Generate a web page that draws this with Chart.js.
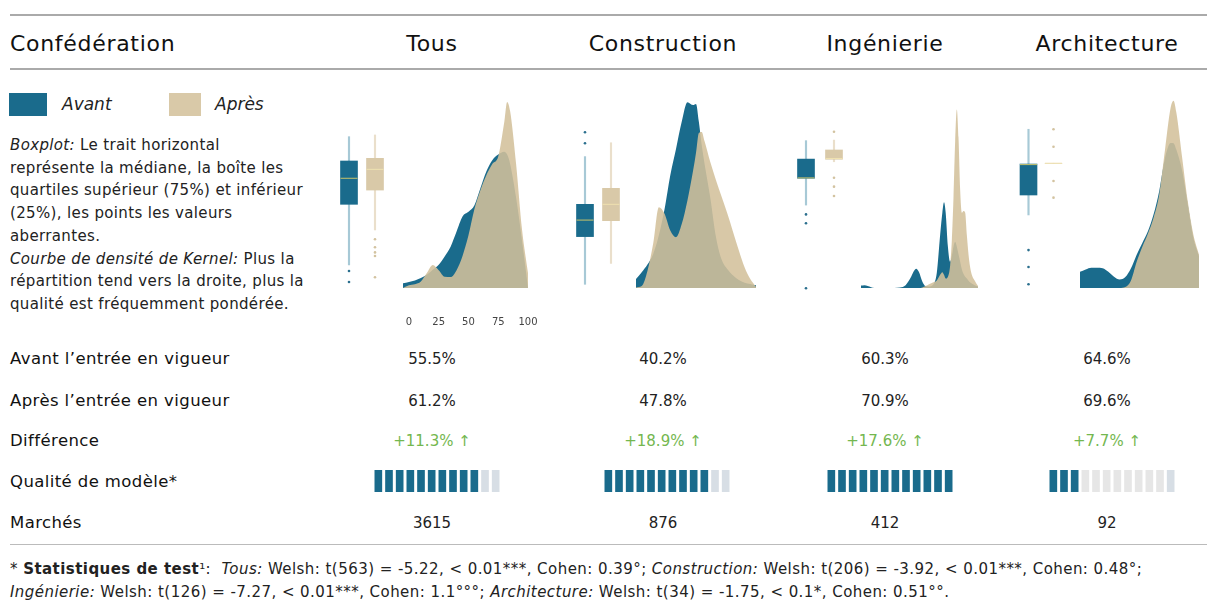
<!DOCTYPE html>
<html lang="fr">
<head>
<meta charset="utf-8">
<script src="https://cdn.jsdelivr.net/npm/chart.js@4.4.1/dist/chart.umd.min.js"></script>
<style>
  body { margin: 0; background: #fff; font-family: "DejaVu Sans", "Noto Sans", sans-serif; color: #111; }
  #page { position: relative; width: 1207px; height: 612px; overflow: hidden; }
  .abs { position: absolute; white-space: nowrap; }
  .hr { position: absolute; left: 10px; right: 0; background: #aaa; }
  .c { transform: translateX(-50%); }
  canvas { position: absolute; }
  .head { font-size: 22px; line-height: 28px; letter-spacing: 0.7px; }
  .lab { font-size: 16.5px; line-height: 22px; letter-spacing: 0.4px; }
  .val { font-size: 15px; line-height: 22px; color: #222; }
  .up { color: #74b74f; }
  #desc { position: absolute; left: 10px; top: 134px; font-size: 15px; line-height: 22.7px; letter-spacing: 0.35px; color: #222; white-space: nowrap; }
  #foot { position: absolute; left: 10px; top: 558px; font-size: 15px; line-height: 23px; letter-spacing: 0.45px; color: #222; white-space: nowrap; }
</style>
</head>
<body>
<div id="page">
  <div class="hr" style="top:14px;height:2px"></div>
  <div class="hr" style="top:68px;height:2px"></div>
  <div class="hr" style="top:544px;height:1px;background:#bbb"></div>

  <div class="abs head" style="left:10px;top:30px">Confédération</div>

  <div class="abs" style="left:9px;top:93px;width:38px;height:23px;background:#1a6b8c"></div>
  <div class="abs" style="left:62px;top:94px;font-size:17px;font-style:italic;color:#222">Avant</div>
  <div class="abs" style="left:169px;top:93px;width:32px;height:23px;background:#d9c9a8"></div>
  <div class="abs" style="left:215px;top:94px;font-size:17px;font-style:italic;color:#222">Après</div>

  <div id="desc"><i>Boxplot:</i> Le trait horizontal<br>représente la médiane, la boîte les<br>quartiles supérieur (75%) et inférieur<br>(25%), les points les valeurs<br>aberrantes.<br><i>Courbe de densité de Kernel:</i> Plus la<br>répartition tend vers la droite, plus la<br>qualité est fréquemment pondérée.</div>

  <div class="abs lab" style="left:10px;top:348px">Avant l’entrée en vigueur</div>
  <div class="abs lab" style="left:10px;top:390px">Après l’entrée en vigueur</div>
  <div class="abs lab" style="left:10px;top:430px">Différence</div>
  <div class="abs lab" style="left:10px;top:471px">Qualité de modèle*</div>
  <div class="abs lab" style="left:10px;top:512px">Marchés</div>

  <div id="foot">* <b>Statistiques de test</b>¹: &nbsp;<i>Tous:</i> Welsh: t(563) = -5.22, &lt; 0.01***, Cohen: 0.39°; <i>Construction:</i> Welsh: t(206) = -3.92, &lt; 0.01***, Cohen: 0.48°;<br><i>Ingénierie:</i> Welsh: t(126) = -7.27, &lt; 0.01***, Cohen: 1.1°°°; <i>Architecture:</i> Welsh: t(34) = -1.75, &lt; 0.1*, Cohen: 0.51°°.</div>
</div>

<script>
// colonnes et valeurs du tableau
const columns = ['Tous', 'Construction', 'Ingénierie', 'Architecture'];
const avantPct = [55.5, 40.2, 60.3, 64.6];
const apresPct = [61.2, 47.8, 70.9, 69.6];
const diffPct = [11.3, 18.9, 17.6, 7.7];
const qualite = [10, 10, 12, 3];
const qualiteMax = 12;
const marches = [3615, 876, 412, 92];
const densTicks = [0, 25, 50, 75, 100];

// boxplots: [min, q1, médiane, q3, max]
const boxAvant = [
  [13.2, 45.1, 58.8, 67.9, 80.7],
  [3, 28.1, 36.8, 45.1, 70.2],
  [44.7, 58.8, 59, 68.9, 78.6],
  [39.5, 50, 66, 66.3, 84.6]
];
const boxApres = [
  [31.6, 52.6, 63.5, 69.3, 81.6],
  [14, 36.5, 45.1, 53.5, 77.5],
  [67.5, 68.8, 69.2, 73.7, 78.9],
  [66.7, 66.7, 66.7, 66.7, 66.7]
];
const outAvant = [[10, 4.2], [77.2, 83], [39.8, 35.1, 0.9], [21, 12.1, 3]];
const outApres = [[26.7, 22.5, 19.8, 17.9, 6.7], [], [83.3, 59.1, 54.4, 49.5], [84.6, 75.4, 57.4, 48.6]];

// courbes de densité (hauteur relative, 0-100)
const densXTous = [-5, 0, 5, 10, 15, 20, 25, 30, 35, 40, 45, 50, 55, 60, 65, 70, 75, 80, 82.5, 85, 90, 95, 100];
const densAvantTous = [2.5, 3.2, 4, 5.3, 7, 9.7, 12.4, 16.8, 22, 30, 38, 40.5, 44, 53, 62, 68, 71, 72.5, 71, 66, 48, 25, 0];
const densApresTous = [0, 1.4, 2, 3.5, 8, 12.3, 9.5, 6, 5.8, 9.5, 17, 28, 42, 52, 60, 66, 70, 88, 99, 94, 66, 31, 8];

const densXConstr = [-5, 0, 5, 10, 15, 20, 25, 30, 35, 40, 45, 47.5, 50, 52.5, 55, 60, 65, 70, 75, 80, 85, 90, 95, 100];
const densAvantConstr = [4.8, 8.4, 12.5, 18, 28, 42, 60, 74, 88.4, 98.8, 97.3, 97.9, 88.4, 76, 66, 48, 27, 15, 10, 6.6, 4.3, 2.8, 2.1, 1.4];
const densApresConstr = [0.3, 1, 9, 23.5, 43, 39.5, 30.6, 27, 34, 46.6, 62.6, 72, 82.5, 83, 78, 67, 57.3, 48.4, 39.5, 29.7, 20, 11, 4.8, 0.7];

const densXIng = [-5, -2, 1, 4, 7, 10, 20, 30, 35, 40, 42.5, 44.5, 47, 50, 53, 56, 60, 63, 66, 68, 69.5, 71, 73, 75, 76.5, 78, 79.5, 81, 82.5, 84, 85.5, 87, 88.5, 90, 92, 94, 97, 100];
const densAvantIng = [1.3, 1.5, 1, 0.4, 0, 0, 0, 0.3, 1.5, 6, 9, 10.2, 8.5, 3.5, 1, 0.8, 2, 8, 28, 40, 45.6, 40, 22, 14, 17, 22, 24.6, 22, 18, 14, 10, 7.5, 6, 5, 3.5, 2.5, 1.5, 0.8];
const densApresIng = [0, 0, 0, 0, 0, 0, 0, 0, 0, 0, 0, 0, 0, 0.3, 1, 2, 3, 4, 7, 8.4, 7, 5, 6, 12, 25, 48, 78, 95, 80, 52, 40, 41, 40, 28, 15, 8, 4, 1];

const densXArch = [-5, 0, 5, 10, 15, 20, 25, 30, 35, 40, 45, 50, 55, 60, 65, 70, 75, 77.5, 80, 85, 90, 95, 100];
const densAvantArch = [8.6, 9.9, 10.8, 10.8, 10.5, 8.6, 6, 4.5, 5.8, 10.5, 17.7, 24, 30.3, 39.3, 51.9, 69, 77.1, 77, 73.5, 62.7, 44.7, 26.7, 16.8];
const densApresArch = [0, 0, 0, 0, 0, 0, 0, 0, 0.5, 4, 14, 22, 29, 37.5, 50, 73.5, 96, 99.6, 93.3, 70, 46.5, 28.5, 17.7];

const densX = [densXTous, densXConstr, densXIng, densXArch];
const densAvant = [densAvantTous, densAvantConstr, densAvantIng, densAvantArch];
const densApres = [densApresTous, densApresConstr, densApresIng, densApresArch];

// mise en page
const colCenter = [432, 663, 885, 1107];
const boxLeft = [336, 571.5, 792, 1015.5];
const boxW = [52, 52, 56, 50];
const densLeft = [403, 636, 861, 1080];
const densW = [125, 120, 117, 119];
const qualLeft = [373, 603, 826, 1048];
const qualVide = ['#d7dee5', '#d7dee5', '#d7dee5', '#e6e6e6'];

const TEAL = '#1a6b8c';
const BEIGE = '#d9c9a8';
const BEIGE_A = 'rgba(211,192,155,0.88)';
const page = document.getElementById('page');

Chart.defaults.font.family = '"DejaVu Sans", "Noto Sans", sans-serif';

function addText(cls, text, x, y) {
  const d = document.createElement('div');
  d.className = 'abs c ' + cls;
  d.style.left = x + 'px';
  d.style.top = y + 'px';
  d.textContent = text;
  page.appendChild(d);
}

function addCanvas(x, y, w, h) {
  const cv = document.createElement('canvas');
  cv.width = w; cv.height = h;
  cv.style.left = x + 'px'; cv.style.top = y + 'px';
  page.appendChild(cv);
  return cv.getContext('2d');
}

const fmt = v => v.toFixed(1) + '%';
const noPlugins = { legend: { display: false }, tooltip: { enabled: false } };

columns.forEach((col, i) => {
  addText('head', col, colCenter[i], 30);
  addText('val', fmt(avantPct[i]), colCenter[i], 348);
  addText('val', fmt(apresPct[i]), colCenter[i], 390);
  addText('val up', '+' + fmt(diffPct[i]) + ' ↑', colCenter[i], 430);
  addText('val', String(marches[i]), colCenter[i], 512);

  // boxplots (x: 0 = avant, 1 = après)
  const a = boxAvant[i], b = boxApres[i];
  new Chart(addCanvas(boxLeft[i], 100, boxW[i], 190), {
    type: 'bar',
    data: {
      datasets: [
        { type: 'line', showLine: false, data: [{ x: 0, y: a[2] }, { x: 1, y: b[2] }],
          pointStyle: 'line', pointRadius: 8.5, pointBorderWidth: 1,
          pointBorderColor: ['#c9c36a', '#efe2b0'], order: 0 },
        { data: [{ x: 0, y: [a[1], a[3]] }, { x: 1, y: [b[1], b[3]] }], backgroundColor: [TEAL, BEIGE],
          barThickness: 17, grouped: false, order: 1 },
        { data: [{ x: 0, y: [a[0], a[4]] }, { x: 1, y: [b[0], b[4]] }], backgroundColor: ['#a7c9d6', '#eadfcb'],
          barThickness: 1.5, grouped: false, order: 2 },
        { type: 'line', showLine: false, data: outAvant[i].map(v => ({ x: 0, y: v })),
          pointRadius: 1.3, pointBorderWidth: 0, pointBackgroundColor: '#2b6f8e', order: 3 },
        { type: 'line', showLine: false, data: outApres[i].map(v => ({ x: 1, y: v })),
          pointRadius: 1.3, pointBorderWidth: 0, pointBackgroundColor: '#d3c3a0', order: 3 }
      ]
    },
    options: {
      responsive: false, animation: false, devicePixelRatio: 1,
      plugins: noPlugins, layout: { padding: 0, autoPadding: false },
      scales: {
        x: { type: 'linear', display: false, min: -0.5, max: 1.5, offset: false },
        y: { display: false, min: 0, max: 100 }
      }
    }
  });

  // densité
  const pad = 15;
  const xs = densX[i];
  new Chart(addCanvas(densLeft[i] - pad, 100, densW[i] + 2 * pad, 240), {
    type: 'line',
    data: {
      datasets: [
        { data: xs.map((x, j) => ({ x, y: densApres[i][j] })), fill: 'origin',
          backgroundColor: BEIGE_A, borderColor: 'rgba(0,0,0,0)', borderWidth: 0,
          pointRadius: 0, cubicInterpolationMode: 'monotone', order: 0 },
        { data: xs.map((x, j) => ({ x, y: densAvant[i][j] })), fill: 'origin',
          backgroundColor: TEAL, borderColor: 'rgba(0,0,0,0)', borderWidth: 0,
          pointRadius: 0, cubicInterpolationMode: 'monotone', order: 1 }
      ]
    },
    options: {
      responsive: false, animation: false, devicePixelRatio: 1,
      plugins: noPlugins, layout: { padding: { left: pad, right: pad, top: 0, bottom: 0 }, autoPadding: false },
      scales: {
        x: {
          type: 'linear', min: -5, max: 100,
          grid: { display: false, drawTicks: false }, border: { display: false },
          afterBuildTicks: ax => { ax.ticks = densTicks.map(v => ({ value: v })); },
          afterFit: ax => { ax.height = 52; ax.paddingLeft = 0; ax.paddingRight = 0; },
          ticks: { display: i === 0, padding: 28, color: '#444', font: { size: 10 }, maxRotation: 0, minRotation: 0, autoSkip: false }
        },
        y: { display: false, min: 0, max: 100 }
      }
    }
  });

  // qualité de modèle
  const segs = Array.from({ length: qualiteMax }, (_, j) => j + 1);
  new Chart(addCanvas(qualLeft[i], 470, 128, 22), {
    type: 'bar',
    data: {
      labels: segs,
      datasets: [{
        data: segs.map(() => 1),
        backgroundColor: segs.map(j => j <= qualite[i] ? TEAL : (j === qualiteMax ? '#d7dee5' : qualVide[i])),
        barThickness: 7
      }]
    },
    options: {
      responsive: false, animation: false, devicePixelRatio: 1,
      plugins: noPlugins, layout: { padding: 0, autoPadding: false },
      scales: { x: { display: false }, y: { display: false, min: 0, max: 1 } }
    }
  });
});
</script>
</body>
</html>
